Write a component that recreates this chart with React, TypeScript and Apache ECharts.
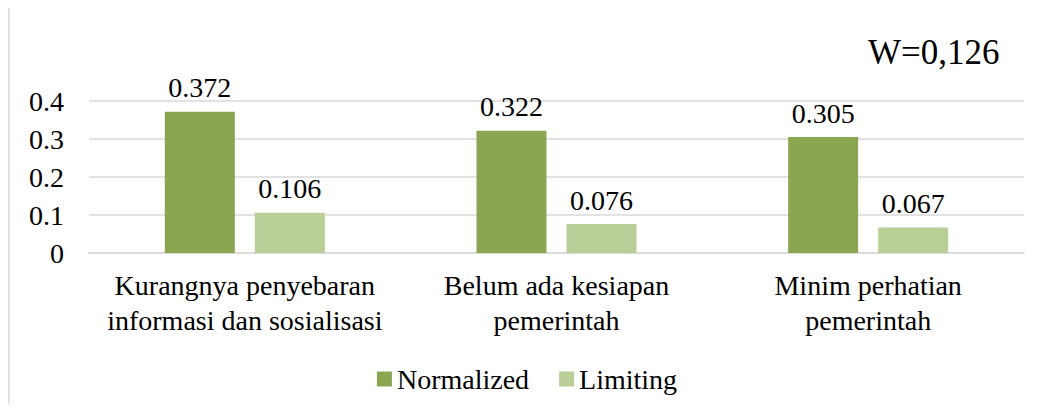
import React, { useEffect, useRef } from "react";
import * as echarts from "echarts";

const categories = [
  "Kurangnya penyebaran\ninformasi dan sosialisasi",
  "Belum ada kesiapan\npemerintah",
  "Minim perhatian\npemerintah",
];
const normalized = [0.372, 0.322, 0.305];
const limiting = [0.106, 0.076, 0.067];
const annotation = "W=0,126";

const FONT = "Liberation Serif";
const FS = 28;

export default function App() {
  const ref = useRef<HTMLDivElement>(null);
  useEffect(() => {
    if (!ref.current) return;
    const chart = echarts.init(ref.current, undefined, { renderer: "svg" });
    const label = {
      show: true,
      position: "top" as const,
      distance: 10,
      fontFamily: FONT,
      fontSize: FS,
      color: "#000",
      formatter: (p: any) => p.value.toFixed(3),
    };
    chart.setOption({
      animation: false,
      backgroundColor: "#fff",
      textStyle: { fontFamily: FONT },
      grid: { left: 81, right: 22, top: 93, bottom: 151, containLabel: false },
      graphic: [
        {
          type: "rect",
          shape: { x: 1, y: -1, width: 1200, height: 600 },
          style: { fill: "none", stroke: "#D9D9D9", lineWidth: 1.5 },
          silent: true,
        },
        {
          type: "text",
          left: 860,
          top: 27,
          style: {
            text: annotation,
            fontFamily: FONT,
            fontSize: 35,
            fill: "#000",
          },
        },
      ],
      legend: {
        data: ["Normalized", "Limiting"],
        bottom: 6,
        left: "center",
        itemWidth: 15,
        itemHeight: 15,
        itemGap: 30,
        icon: "rect",
        textStyle: { fontFamily: FONT, fontSize: FS, color: "#000" },
      },
      xAxis: {
        type: "category",
        data: categories,
        axisLine: { show: true, lineStyle: { color: "#D9D9D9", width: 1.5 } },
        axisTick: { show: false },
        axisLabel: {
          fontFamily: FONT,
          fontSize: FS,
          color: "#000",
          lineHeight: 35,
          margin: 15,
          interval: 0,
        },
      },
      yAxis: {
        type: "value",
        min: 0,
        max: 0.4,
        interval: 0.1,
        axisLine: { show: false },
        axisTick: { show: false },
        splitLine: { lineStyle: { color: "#D9D9D9", width: 1.5 } },
        axisLabel: {
          fontFamily: FONT,
          fontSize: FS,
          color: "#000",
          margin: 25,
          formatter: (v: number) => (v === 0 ? "0" : String(Math.round(v * 10) / 10)),
        },
      },
      series: [
        {
          name: "Normalized",
          type: "bar",
          data: normalized,
          barWidth: 70,
          barGap: "28.6%",
          itemStyle: { color: "#8AA650" },
          label,
        },
        {
          name: "Limiting",
          type: "bar",
          data: limiting,
          barWidth: 70,
          itemStyle: { color: "#B9CF97" },
          label,
        },
      ],
    });
    return () => chart.dispose();
  }, []);
  return <div ref={ref} style={{ width: 1038, height: 396 }} />;
}
